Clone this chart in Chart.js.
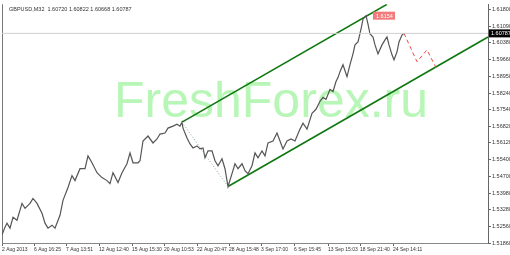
<!DOCTYPE html>
<html>
<head>
<meta charset="utf-8">
<script src="https://cdn.jsdelivr.net/npm/chart.js@4/dist/chart.umd.min.js"></script>
<style>
  html, body { margin: 0; padding: 0; background: #fff; }
  #wrap { width: 510px; height: 255px; }
</style>
</head>
<body>
<div id="wrap"><canvas id="chart"></canvas></div>
<script>
const symbolTitle = 'GBPUSD,M32  1.60720 1.60822 1.60668 1.60787';
const lastPrice = 1.60787;
const peakLabel = '1.6154';
const peakBar = 364;
const peakPrice = 1.6154;

// bar index along the time axis, and close price
const priceBars = [0,3,5,8,11,15,20,23,28,31,35,40,43,46,50,53,58,61,66,70,73,78,83,86,90,95,100,105,108,111,116,120,125,128,131,136,138,141,146,151,155,158,163,166,171,175,178,180,181,185,188,191,195,198,201,203,206,210,213,216,220,223,226,230,233,236,240,243,246,250,253,256,260,263,266,271,275,278,281,285,289,293,298,301,305,310,314,318,321,324,328,331,334,336,338,341,345,348,351,353,356,359,361,364,366,368,371,373,376,380,383,385,387,390,392,395,397,400,402];
const priceValues = [1.52198,1.52535,1.52704,1.52493,1.52957,1.52830,1.53547,1.53336,1.53547,1.53758,1.53547,1.53125,1.52704,1.52493,1.52619,1.52493,1.53041,1.53674,1.54222,1.54728,1.54517,1.55023,1.55023,1.55572,1.55276,1.54855,1.54644,1.54517,1.54391,1.54855,1.54433,1.54855,1.55234,1.55698,1.55276,1.55276,1.55361,1.56204,1.56415,1.56120,1.56289,1.56500,1.56542,1.56753,1.56837,1.56921,1.56837,1.57006,1.56753,1.56331,1.56078,1.55909,1.55993,1.55867,1.55909,1.55487,1.55783,1.55783,1.55361,1.55150,1.55445,1.55023,1.54264,1.54813,1.55234,1.55023,1.55234,1.54939,1.54813,1.55150,1.55698,1.55487,1.55783,1.55572,1.56120,1.56204,1.56542,1.56204,1.55867,1.56204,1.56289,1.56204,1.56710,1.56964,1.56710,1.57385,1.57554,1.57892,1.58060,1.57976,1.58398,1.58313,1.58735,1.58904,1.59157,1.59452,1.58946,1.59452,1.59916,1.60296,1.60422,1.60970,1.61392,1.61540,1.61181,1.60760,1.60633,1.60296,1.59916,1.60296,1.60507,1.60633,1.60296,1.59874,1.59663,1.60000,1.60422,1.60717,1.60787];

const forecastBars = [402,415,425,435];
const forecastValues = [1.60787,1.59579,1.60085,1.59241];

const upperBars = [180,385];
const upperValues = [1.57006,1.62025];
const lowerBars = [226,486];
const lowerValues = [1.54264,1.60633];
const fanBars = [180,226];
const fanValues = [1.57006,1.54264];

const yTicks = [1.51860,1.52560,1.53280,1.53980,1.54700,1.55400,1.56120,1.56820,1.57540,1.58240,1.58950,1.59660,1.60380,1.61090,1.61800];
const xTickBars = [0,32,64,97,130,162,195,227,259,292,326,358,391];
const xTickLabels = ['2 Aug 2013','6 Aug 16:25','7 Aug 13:51','12 Aug 12:40','15 Aug 15:30','20 Aug 10:53','22 Aug 20:47','28 Aug 15:48','3 Sep 17:00','6 Sep 15:45','13 Sep 15:03','18 Sep 21:40','24 Sep 14:11'];

const pts = (xs, ys) => xs.map((x, i) => ({x: x, y: ys[i]}));

const decor = {
    id: 'decor',
    beforeDatasetsDraw(chart) {
        const c = chart.ctx, a = chart.chartArea;
        c.save();
        c.fillStyle = 'rgba(160,243,160,0.75)';
        c.font = '50px "Liberation Sans"';
        c.textAlign = 'center';
        c.textBaseline = 'alphabetic';
        c.fillText('FreshForex.ru', 271, 117);
        c.fillStyle = '#333';
        c.font = '5.5px "Liberation Sans"';
        c.textAlign = 'left';
        c.fillText(symbolTitle, a.left + 7, a.top + 7);
        c.strokeStyle = '#777';
        c.lineWidth = 1;
        c.beginPath();
        c.moveTo(a.left + 0.5, a.top);
        c.lineTo(a.left + 0.5, a.bottom);
        c.stroke();
        c.restore();
    },
    afterDraw(chart) {
        const c = chart.ctx, a = chart.chartArea;
        const ys = chart.scales.y, xs = chart.scales.x;
        c.save();
        // current price box on the axis
        const py = ys.getPixelForValue(lastPrice);
        c.fillStyle = '#000';
        c.fillRect(a.right + 1, py - 4, 22, 8);
        c.fillStyle = '#fff';
        c.font = '5.5px "Liberation Sans"';
        c.textBaseline = 'middle';
        c.textAlign = 'left';
        c.fillText(lastPrice.toFixed(5), a.right + 3, py + 0.5);
        // peak label
        const kx = xs.getPixelForValue(peakBar) + 7, ky = ys.getPixelForValue(peakPrice);
        c.fillStyle = '#f27a7a';
        c.fillRect(kx, ky - 4, 22, 8);
        c.fillStyle = '#fff';
        c.fillText(peakLabel, kx + 3, ky + 0.5);
        c.restore();
    }
};

new Chart(document.getElementById('chart'), {
    type: 'line',
    data: {
        datasets: [
            {
                label: 'bid',
                data: [{x: 0, y: lastPrice}, {x: 486, y: lastPrice}],
                borderColor: '#cfcfcf',
                borderWidth: 1
            },
            {
                label: 'fan',
                data: pts(fanBars, fanValues),
                borderColor: '#7fa88a',
                borderWidth: 1,
                borderDash: [1, 2]
            },
            {
                label: 'GBPUSD',
                data: pts(priceBars, priceValues),
                borderColor: '#555',
                borderWidth: 1.2
            },
            {
                label: 'forecast',
                data: pts(forecastBars, forecastValues),
                borderColor: '#f04848',
                borderWidth: 1,
                borderDash: [4, 3]
            },
            {
                label: 'upper',
                data: pts(upperBars, upperValues),
                borderColor: '#107810',
                borderWidth: 1.6
            },
            {
                label: 'lower',
                data: pts(lowerBars, lowerValues),
                borderColor: '#107810',
                borderWidth: 1.6
            }
        ]
    },
    options: {
        responsive: true,
        maintainAspectRatio: false,
        animation: false,
        layout: {padding: {left: 2, top: 2, right: 0, bottom: 0}},
        elements: {point: {radius: 0}, line: {tension: 0}},
        plugins: {legend: {display: false}, tooltip: {enabled: false}},
        scales: {
            x: {
                type: 'linear',
                min: 0,
                max: 486,
                afterBuildTicks: (s) => { s.ticks = xTickBars.map(v => ({value: v})); },
                afterFit: (s) => { s.height = 12; },
                ticks: {
                    autoSkip: false,
                    maxRotation: 0,
                    align: 'start',
                    padding: 1,
                    color: '#333',
                    font: {family: 'Liberation Sans', size: 5},
                    callback: (v) => xTickLabels[xTickBars.indexOf(v)]
                },
                grid: {drawOnChartArea: false, tickLength: 3, color: '#666'},
                border: {color: '#888'}
            },
            y: {
                position: 'right',
                min: 1.5186,
                max: 1.62025,
                afterBuildTicks: (s) => { s.ticks = yTicks.map(v => ({value: v})); },
                afterFit: (s) => { s.width = 22; },
                ticks: {
                    autoSkip: false,
                    padding: 1,
                    color: '#333',
                    font: {family: 'Liberation Sans', size: 5.5},
                    callback: (v) => v.toFixed(5)
                },
                grid: {drawOnChartArea: false, tickLength: 3, color: '#666'},
                border: {color: '#666'}
            }
        }
    },
    plugins: [decor]
});
</script>
</body>
</html>
